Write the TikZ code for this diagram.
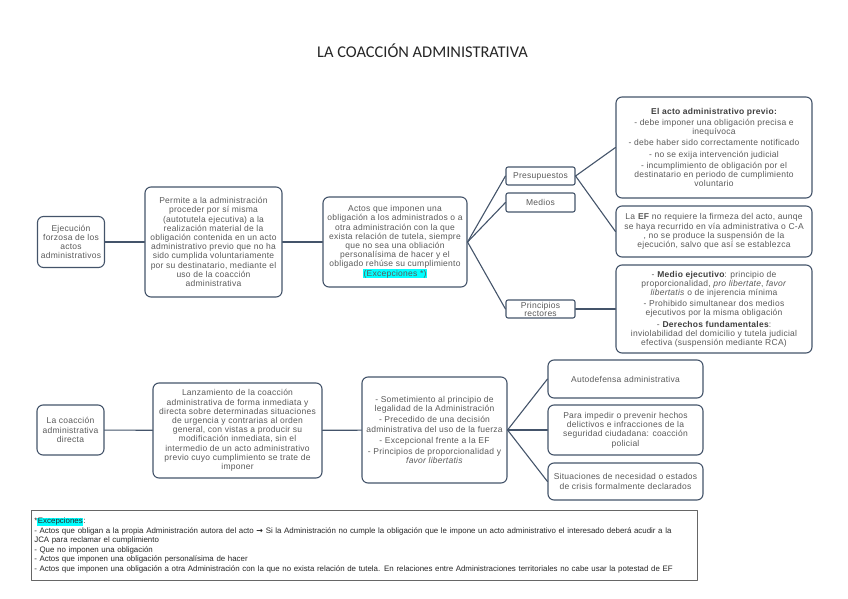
\documentclass[tikz,border=0pt]{standalone}
\usepackage{fontspec}
\setmainfont{Liberation Sans}
\newfontfamily\boxfont{Liberation Sans}[LetterSpace=3.0]
\newfontfamily\titlefont{Carlito}
\newfontfamily\arrowfont{DejaVu Sans}
\usepackage{xcolor}
\usetikzlibrary{positioning}

\definecolor{linec}{HTML}{44546A}
\definecolor{txtc}{HTML}{595959}
\definecolor{hlcyan}{HTML}{00FFFF}
\newcommand{\resalte}[1]{{\setlength{\fboxsep}{0.6pt}\colorbox{hlcyan}{#1}}}

\begin{document}
\begin{tikzpicture}[x=1pt, y=-1pt, line cap=round, line join=round,
		box/.style={draw=linec, line width=1.1pt, rounded corners=6pt, align=center,
			text=txtc, inner sep=1pt, font=\boxfont\fontsize{8.5}{9.2}\selectfont},
		tagbox/.style={box, rounded corners=2pt},
		link/.style={draw=linec, line width=1.1pt}]
			\useasboundingbox (0,0) rectangle (848,599);
			
			% Title
			\node[font=\titlefont\fontsize{16.4}{19}\selectfont, text=black!85] (title) at (422.5,51) {LA COACCIÓN ADMINISTRATIVA};
			
			% Upper branch: ejecucion forzosa
			\node[box, minimum width=67pt, minimum height=51pt] (ejec) at (71,242)
				{Ejecución\\forzosa de los\\actos\\administrativos};
			\node[box, minimum width=137pt, minimum height=110pt] (permite) at (213.5,242)
				{Permite a la administración\\proceder por sí misma\\(autotutela ejecutiva) a la\\realización material de la\\obligación contenida en un acto\\administrativo previo que no ha\\sido cumplida voluntariamente\\por su destinatario, mediante el\\uso de la coacción\\administrativa};
			\node[box, minimum width=144pt, minimum height=90pt] (actos) at (395,242)
				{Actos que imponen una\\obligación a los administrados o a\\otra administración con la que\\exista relación de tutela, siempre\\que no sea una obliación\\personalísima de hacer y el\\obligado rehúse su cumplimiento\\\resalte{(Excepciones *)}};
			
			\node[tagbox, minimum width=69pt, minimum height=18pt] (presu) at (540.5,176) {Presupuestos};
			\node[tagbox, minimum width=69pt, minimum height=19pt] (medios) at (540.5,202.5) {Medios};
			\node[tagbox, minimum width=69pt, minimum height=18pt, font=\boxfont\fontsize{8.5}{8}\selectfont] (princ) at (540.5,309) {Principios\\rectores};
			
			\node[box, minimum width=196pt, minimum height=101pt] (previo) at (714,147.5)
				{\textbf{\color{black!75}El acto administrativo previo:}\\[2pt]- debe imponer una obligación precisa e\\inequívoca\\[2pt]- debe haber sido correctamente notificado\\[2pt]- no se exija intervención judicial\\[2pt]- incumplimiento de obligación por el\\destinatario en periodo de cumplimiento\\voluntario};
			\node[box, minimum width=196pt, minimum height=51pt] (ef) at (714,231.5)
				{La \textbf{EF} no requiere la firmeza del acto, aunqe\\se haya recurrido en vía administrativa o C-A\\, no se produce la suspensión de la\\ejecución, salvo que así se establezca};
			\node[box, minimum width=196pt, minimum height=88pt] (medio) at (714,309)
				{- \textbf{\color{black!75}Medio ejecutivo}: principio de\\proporcionalidad, \textit{pro libertate}, \textit{favor}\\\textit{libertatis} o de injerencia mínima\\[2pt]- Prohibido simultanear dos medios\\ejecutivos por la misma obligación\\[2pt]- \textbf{\color{black!75}Derechos fundamentales}:\\inviolabilidad del domicilio y tutela judicial\\efectiva (suspensión mediante RCA)};
			
			\draw[link] (ejec) -- (permite);
			\draw[link] (permite) -- (actos);
			\draw[link] (actos.east) -- (presu.west);
			\draw[link] (actos.east) -- (medios.west);
			\draw[link] (actos.east) -- (princ.west);
			\draw[link] (presu.east) -- (previo.west);
			\draw[link] (presu.east) -- (ef.west);
			\draw[link] (princ.east) -- (medio.west);
			
			% Lower branch: coaccion directa
			\node[box, minimum width=67pt, minimum height=50pt] (directa) at (70.5,430)
				{La coacción\\administrativa\\directa};
			\node[box, minimum width=169pt, minimum height=95pt] (lanz) at (237.5,430.5)
				{Lanzamiento de la coacción\\administrativa de forma inmediata y\\directa sobre determinadas situaciones\\de urgencia y contrarias al orden\\general, con vistas a producir su\\modificación inmediata, sin el\\intermedio de un acto administrativo\\previo cuyo cumplimiento se trate de\\imponer};
			\node[box, minimum width=145pt, minimum height=106pt] (somet) at (434.5,430)
				{- Sometimiento al principio de\\legalidad de la Administración\\[2pt]- Precedido de una decisión\\administrativa del uso de la fuerza\\[2pt]- Excepcional frente a la EF\\[2pt]- Principios de proporcionalidad y\\\textit{favor libertatis}};
			
			\node[box, minimum width=155pt, minimum height=38pt] (autod) at (625.5,379) {Autodefensa administrativa};
			\node[box, minimum width=155pt, minimum height=50pt] (impedir) at (625.5,430)
				{Para impedir o prevenir hechos\\delictivos e infracciones de la\\seguridad ciudadana: coacción\\policial};
			\node[box, minimum width=155pt, minimum height=37pt] (situac) at (625.5,481.5)
				{Situaciones de necesidad o estados\\de crisis formalmente declarados};
			
			\draw[link] (directa) -- (lanz);
			\draw[link] (lanz) -- (somet);
			\draw[link] (somet.east) -- (autod.west);
			\draw[link] (somet.east) -- (impedir.west);
			\draw[link] (somet.east) -- (situac.west);
			
			% Footnote
			\node[draw=black!60, line width=0.6pt, anchor=north west, minimum width=666pt, minimum height=70pt,
				text width=660pt, align=left, inner sep=3pt, font=\fontsize{7.9}{9.5}\selectfont, text=black!85] (nota) at (31,510)
				{*\resalte{Excepciones}:\\
				- Actos que obligan a la propia Administración autora del acto {\arrowfont\bfseries →} Si la Administración no cumple la obligación que le impone un acto administrativo el interesado deberá acudir a la\\
				JCA para reclamar el cumplimiento\\
				- Que no imponen una obligación\\
				- Actos que imponen una obligación personalísima de hacer\\
				- Actos que imponen una obligación a otra Administración con la que no exista relación de tutela. En relaciones entre Administraciones territoriales no cabe usar la potestad de EF};
		\end{tikzpicture}
\end{document}
